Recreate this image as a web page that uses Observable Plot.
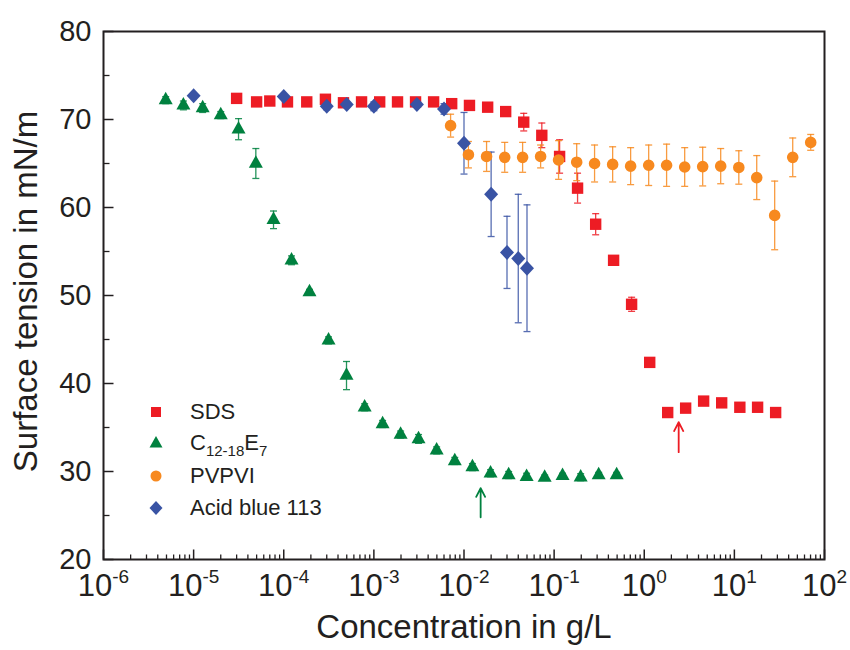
<!DOCTYPE html>
<html><head><meta charset="utf-8">
<script src="https://cdn.jsdelivr.net/npm/d3@7"></script>
<script src="https://cdn.jsdelivr.net/npm/@observablehq/plot@0.6"></script>
<style>
body{margin:0;background:#fff;}
#wrap{position:relative;width:850px;height:650px;font-family:"Liberation Sans",Arial,sans-serif;color:#231f20;}
.lg{position:absolute;left:146px;height:32px;line-height:32px;font-size:22px;white-space:nowrap;}
.lg svg{position:absolute;left:0;top:6px;}
.lg span.t{position:absolute;left:44px;top:0;}
.lg sub{font-size:15px;vertical-align:-6px;line-height:0;}
</style></head><body><div id="wrap"></div>
<script>
// ---- Data ----
const sdsConc = [3e-5,5e-5,7e-5,1.1e-4,1.8e-4,2.9e-4,4.6e-4,7.3e-4,1.16e-3,1.83e-3,2.9e-3,4.6e-3,7.3e-3,1.15e-2,1.83e-2,2.9e-2,4.6e-2,7.3e-2,0.115,0.182,0.289,0.457,0.724,1.15,1.82,2.88,4.56,7.23,11.5,18.1,28.7];
const sdsTension = [72.4,72.0,72.1,72.0,72.0,72.3,71.9,72.0,72.0,72.0,72.0,72.0,71.8,71.6,71.4,70.9,69.7,68.2,65.8,62.2,58.1,54.0,49.0,42.4,36.7,37.2,38.0,37.8,37.3,37.3,36.7];
const sdsErr = [0.2,0.2,0.2,0.2,0.2,0.3,0.2,0.2,0.2,0.2,0.2,0.2,0.2,0.2,0.3,0.3,1.0,1.4,1.9,1.7,1.2,0.3,0.8,0.5,0.2,0.2,0.2,0.2,0.2,0.2,0.2];

const c12Conc = [4.9e-6,7.7e-6,1.26e-5,2.0e-5,3.15e-5,4.9e-5,7.7e-5,1.22e-4,1.93e-4,3.14e-4,4.97e-4,7.9e-4,1.25e-3,1.98e-3,3.13e-3,4.97e-3,7.9e-3,1.24e-2,1.97e-2,3.13e-2,4.95e-2,7.85e-2,0.124,0.197,0.312,0.494];
const c12Tension = [72.2,71.6,71.3,70.5,68.9,65.0,58.6,54.0,50.4,44.9,40.9,37.3,35.4,34.2,33.7,32.4,31.2,30.5,29.8,29.6,29.4,29.3,29.5,29.35,29.6,29.6];
const c12Err = [0.4,0.5,0.5,0.4,1.2,1.7,1.0,0.5,0.3,0.4,1.6,0.4,0.4,0.4,0.5,0.4,0.4,0.4,0.4,0.4,0.4,0.3,0.3,0.4,0.3,0.3];

const pvConc = [7.1e-3,1.12e-2,1.78e-2,2.83e-2,4.47e-2,7.08e-2,0.112,0.178,0.281,0.446,0.706,1.12,1.77,2.81,4.45,7.05,11.2,17.7,28.0,44.4,70.3];
const pvTension = [69.3,66.0,65.8,65.7,65.7,65.8,65.4,65.15,65.0,64.9,64.7,64.8,64.8,64.6,64.65,64.7,64.55,63.4,59.1,65.7,67.4];
const pvErr = [1.3,1.5,1.7,1.7,1.7,1.3,2.2,2.1,2.1,2.0,2.1,2.3,2.4,2.2,2.2,2.0,1.9,2.5,3.9,2.2,0.9];

const abConc = [1e-5,1e-4,3e-4,5e-4,1e-3,3e-3,6e-3,1e-2,2e-2,3e-2,4e-2,5e-2];
const abTension = [72.7,72.6,71.5,71.7,71.5,71.7,71.2,67.3,61.5,54.9,54.2,53.1];
const abErr = [0.2,0.2,0.4,0.3,0.5,0.3,0.6,3.5,4.8,4.1,7.3,7.2];

const seriesNames = ["SDS","C12-18E7","PVPVI","Acid blue 113"];
const seriesColors = ["#ed1c24","#00813f","#f7891f","#3953a4"];

const arrowConc = [0.0153, 2.41];
const arrowFrom = [24.8, 32.2];
const arrowTo = [28.1, 35.6];
const arrowColors = ["#00813f","#ed1c24"];

const xTickExp = [-6,-5,-4,-3,-2,-1,0,1,2];
const yTickLabels = [20,30,40,50,60,70,80];
const yMinorTicks = [25,35,45,55,65,75];

// ---- Build tables ----
function table(conc, ten, err){ return conc.map((c,i)=>({c, t:ten[i], e:err[i]})); }
const sets = [table(sdsConc,sdsTension,sdsErr), table(c12Conc,c12Tension,c12Err), table(pvConc,pvTension,pvErr), table(abConc,abTension,abErr)];
const arrows = arrowConc.map((c,i)=>({c, y1:arrowFrom[i], y2:arrowTo[i], col:arrowColors[i]}));
const xMajor = xTickExp.map(e=>Math.pow(10,e));
const xMinor = [];
xTickExp.slice(0,-1).forEach(e=>{ for(let k=2;k<=9;k++) xMinor.push(k*Math.pow(10,e)); });

// ---- Symbols (pixel sized) ----
const symSquare = {draw(ctx){ ctx.rect(-5.7,-5.7,11.4,11.4); }};
const symTriangle = {draw(ctx){ ctx.moveTo(0,-8.3); ctx.lineTo(7,4.2); ctx.lineTo(-7,4.2); ctx.closePath(); }};
const symCircle = {draw(ctx){ ctx.moveTo(5.8,0); ctx.arc(0,0,5.8,0,2*Math.PI); }};
const symDiamond = {draw(ctx){ ctx.moveTo(0,-7.5); ctx.lineTo(7,0); ctx.lineTo(0,7.5); ctx.lineTo(-7,0); ctx.closePath(); }};
const symbols = [symSquare, symTriangle, symCircle, symDiamond];
const symCap = {draw(ctx){ ctx.moveTo(-3.5,0); ctx.lineTo(3.5,0); }};
const tickUp = (len)=>({draw(ctx){ ctx.moveTo(0,0); ctx.lineTo(0,-len); }});
const tickRight = (len)=>({draw(ctx){ ctx.moveTo(0,0); ctx.lineTo(len,0); }});

const marks = [];
// axes ticks (inward)
marks.push(Plot.dot(xMajor, {x:d=>d, frameAnchor:"bottom", symbol:tickUp(10), stroke:"#231f20", strokeWidth:1.5, fill:"none"}));
marks.push(Plot.dot(xMinor, {x:d=>d, frameAnchor:"bottom", symbol:tickUp(5), stroke:"#231f20", strokeWidth:1.3, fill:"none"}));
marks.push(Plot.dot(yTickLabels, {y:d=>d, frameAnchor:"left", symbol:tickRight(10), stroke:"#231f20", strokeWidth:1.5, fill:"none"}));
marks.push(Plot.dot(yMinorTicks, {y:d=>d, frameAnchor:"left", symbol:tickRight(6), stroke:"#231f20", strokeWidth:1.3, fill:"none"}));
// error bars + points
sets.forEach((data,i)=>{
  const col = seriesColors[i];
  marks.push(Plot.ruleX(data, {x:"c", y1:d=>d.t-d.e, y2:d=>d.t+d.e, stroke:col, strokeWidth:1.3, strokeOpacity:0.85}));
  marks.push(Plot.dot(data, {x:"c", y:d=>d.t-d.e, symbol:symCap, stroke:col, strokeWidth:1.3, fill:"none", strokeOpacity:0.85}));
  marks.push(Plot.dot(data, {x:"c", y:d=>d.t+d.e, symbol:symCap, stroke:col, strokeWidth:1.3, fill:"none", strokeOpacity:0.85}));
});
sets.forEach((data,i)=>{
  marks.push(Plot.dot(data, {x:"c", y:"t", symbol:symbols[i], fill:seriesColors[i], stroke:"none"}));
});
marks.push(Plot.arrow(arrows, {x1:"c", x2:"c", y1:"y1", y2:"y2", stroke:"col", strokeWidth:1.8, headLength:12, headAngle:55}));
marks.push(Plot.frame({stroke:"#231f20", strokeWidth:2}));
marks.push(Plot.axisX(xMajor, {tickSize:0, tickPadding:14, tickFormat:d=>"10^"+Math.round(Math.log10(d)), fontSize:31, fill:"#231f20"}));
marks.push(Plot.axisY(yTickLabels, {tickSize:0, tickPadding:12, fontSize:29, fill:"#231f20", label:null}));
marks.push(Plot.text(["Concentration in g/L"], {frameAnchor:"bottom", dy:78, fontSize:33, fill:"#231f20"}));
marks.push(Plot.text(["Surface tension in mN/m"], {frameAnchor:"left", rotate:-90, dx:-77, dy:-4, textAnchor:"middle", fontSize:33, fill:"#231f20"}));

const chart = Plot.plot({
  width:850, height:650,
  marginTop:31, marginRight:26, marginBottom:91, marginLeft:103,
  style:{fontFamily:"Liberation Sans, Arial, sans-serif", background:"#fff", overflow:"visible"},
  x:{type:"log", domain:[1e-6,1e2], label:null},
  y:{domain:[20,80], label:null},
  marks
});
document.getElementById("wrap").appendChild(chart);

// superscript exponents on x tick labels
chart.querySelectorAll('g[aria-label="x-axis tick label"] text').forEach(t=>{
  const s = t.textContent; const exp = s.split("^")[1];
  t.textContent = "";
  const a = document.createElementNS("http://www.w3.org/2000/svg","tspan"); a.textContent = "10";
  const b = document.createElementNS("http://www.w3.org/2000/svg","tspan"); b.textContent = exp;
  b.setAttribute("font-size","19"); b.setAttribute("dy","-13");
  t.appendChild(a); t.appendChild(b);
});

// legend (HTML overlay)
const wrap = document.getElementById("wrap");
const legendLabels = ["SDS","C<sub>12-18</sub>E<sub>7</sub>","PVPVI","Acid blue 113"];
const legendShapes = [
  '<rect x="5" y="5" width="10" height="10"/>',
  '<path d="M10,3 L16.5,14.5 L3.5,14.5Z"/>',
  '<circle cx="10" cy="10" r="5.5"/>',
  '<path d="M10,3 L16.5,10 L10,17 L3.5,10Z"/>'
];
const legendRowTops = [396, 427, 460, 492];
seriesNames.forEach((n,i)=>{
  const row = document.createElement("div");
  row.className="lg"; row.style.top = legendRowTops[i]+"px";
  row.innerHTML = `<svg width="20" height="20" fill="${seriesColors[i]}">${legendShapes[i]}</svg><span class="t">${legendLabels[i]}</span>`;
  wrap.appendChild(row);
});
</script></body></html>
